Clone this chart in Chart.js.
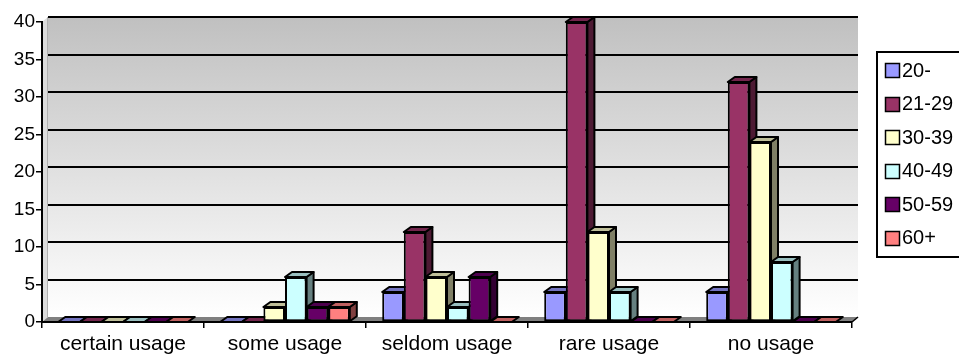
<!DOCTYPE html>
<html>
<head>
<meta charset="utf-8">
<script src="https://cdn.jsdelivr.net/npm/chart.js@4/dist/chart.umd.min.js"></script>
<style>
  html, body { margin: 0; padding: 0; background: #ffffff; overflow: hidden; }
  #wrap { position: relative; width: 959px; height: 358px; }
</style>
</head>
<body>
<div id="wrap"><canvas id="chart" width="959" height="358"></canvas></div>
<script>
// Usage frequency by age group
const categories = ['certain usage', 'some usage', 'seldom usage', 'rare usage', 'no usage'];
const ageGroups = ['20-', '21-29', '30-39', '40-49', '50-59', '60+'];

const age20     = [0, 0, 4, 4, 4];
const age21to29 = [0, 0, 12, 40, 32];
const age30to39 = [0, 2, 6, 12, 24];
const age40to49 = [0, 6, 2, 4, 8];
const age50to59 = [0, 2, 6, 0, 0];
const age60plus = [0, 2, 0, 0, 0];

const yTicks = [0, 5, 10, 15, 20, 25, 30, 35, 40];

const seriesValues = [age20, age21to29, age30to39, age40to49, age50to59, age60plus];
const seriesColors = ['#9999FF', '#993366', '#FFFFCC', '#CCFFFF', '#660066', '#FF8080'];

const FONT = '"Liberation Sans", Arial, sans-serif';
const DEPTH = { dx: 7, dy: -5 };   // bar depth offset
const WALL = { dx: 6, dy: -5 };    // back wall offset

function shade(hex, f) {
  const n = parseInt(hex.slice(1), 16);
  const r = Math.round(((n >> 16) & 255) * f);
  const g = Math.round(((n >> 8) & 255) * f);
  const b = Math.round((n & 255) * f);
  return `rgb(${r},${g},${b})`;
}

// Back wall, floor and wall gridlines
const wallPlugin = {
  id: 'wall',
  beforeDraw(chart) {
    const { ctx, chartArea: a, scales: { y } } = chart;
    const L = a.left + WALL.dx, R = a.right + WALL.dx;
    const T = y.getPixelForValue(40) + WALL.dy, B = y.getPixelForValue(0) + WALL.dy;
    ctx.save();
    const g = ctx.createLinearGradient(0, T, 0, B);
    g.addColorStop(0, '#c0c0c0');
    g.addColorStop(1, '#ffffff');
    ctx.fillStyle = g;
    ctx.fillRect(L, T, R - L, B - T);
    // left side wall
    ctx.fillStyle = '#dcdcdc';
    ctx.beginPath();
    ctx.moveTo(a.left, y.getPixelForValue(40));
    ctx.lineTo(L, T);
    ctx.lineTo(L, B);
    ctx.lineTo(a.left, y.getPixelForValue(0));
    ctx.closePath();
    ctx.fill();
    ctx.strokeStyle = '#b0b0b0';
    ctx.lineWidth = 1;
    ctx.beginPath();
    ctx.moveTo(L - 0.5, T);
    ctx.lineTo(L - 0.5, B);
    ctx.stroke();
    // floor
    const f0 = y.getPixelForValue(0);
    ctx.fillStyle = '#808080';
    ctx.beginPath();
    ctx.moveTo(a.left, f0);
    ctx.lineTo(L, B);
    ctx.lineTo(R, B);
    ctx.lineTo(a.right, f0);
    ctx.closePath();
    ctx.fill();
    // gridlines on the wall
    ctx.strokeStyle = '#000000';
    ctx.lineWidth = 2;
    yTicks.forEach(v => {
      if (v === 0) return;
      const py = Math.round(y.getPixelForValue(v) + WALL.dy);
      ctx.beginPath();
      ctx.moveTo(L, py);
      ctx.lineTo(R, py);
      ctx.stroke();
    });
    // floor edge on the right
    ctx.lineWidth = 1.5;
    ctx.beginPath();
    ctx.moveTo(a.right, f0);
    ctx.lineTo(R, B);
    ctx.stroke();
    ctx.restore();
  }
};

// Top and side faces of each column
const depthPlugin = {
  id: 'depth',
  beforeDatasetsDraw(chart) {
    const ctx = chart.ctx;
    ctx.save();
    ctx.lineWidth = 2;
    ctx.strokeStyle = '#000000';
    ctx.lineJoin = 'round';
    chart.data.datasets.forEach((ds, i) => {
      const meta = chart.getDatasetMeta(i);
      meta.data.forEach(bar => {
        const p = bar.getProps(['x', 'y', 'base', 'width'], true);
        const l = p.x - p.width / 2, r = p.x + p.width / 2;
        const t = Math.min(p.y, p.base), b = Math.max(p.y, p.base);
        const base = ds.backgroundColor;
        // side
        if (b - t > 0.5) {
          ctx.fillStyle = shade(base, 0.5);
          ctx.beginPath();
          ctx.moveTo(r, t);
          ctx.lineTo(r + DEPTH.dx, t + DEPTH.dy);
          ctx.lineTo(r + DEPTH.dx, b + DEPTH.dy);
          ctx.lineTo(r, b);
          ctx.closePath();
          ctx.fill();
          ctx.stroke();
        }
        // top
        ctx.fillStyle = shade(base, 0.75);
        ctx.beginPath();
        ctx.moveTo(l, t);
        ctx.lineTo(l + DEPTH.dx, t + DEPTH.dy);
        ctx.lineTo(r + DEPTH.dx, t + DEPTH.dy);
        ctx.lineTo(r, t);
        ctx.closePath();
        ctx.fill();
        ctx.stroke();
      });
    });
    ctx.restore();
  }
};

// Boxed legend on the right
const boxLegendPlugin = {
  id: 'boxLegend',
  afterDraw(chart) {
    const ctx = chart.ctx;
    ctx.save();
    ctx.strokeStyle = '#000000';
    ctx.lineWidth = 2;
    ctx.fillStyle = '#ffffff';
    ctx.fillRect(877, 52, 100, 205);
    ctx.strokeRect(877, 52, 100, 205);
    ctx.font = '20px ' + FONT;
    ctx.textBaseline = 'middle';
    ctx.textAlign = 'left';
    chart.data.datasets.forEach((ds, i) => {
      const cy = 70 + i * 33.5;
      ctx.fillStyle = ds.backgroundColor;
      ctx.fillRect(885.5, Math.round(cy - 7) + 0.5, 14, 14);
      ctx.lineWidth = 1.5;
      ctx.strokeRect(885.5, Math.round(cy - 7) + 0.5, 14, 14);
      ctx.fillStyle = '#000000';
      ctx.fillText(ds.label, 902, cy + 1);
    });
    ctx.restore();
  }
};

const datasets = ageGroups.map((label, i) => ({
  label,
  data: seriesValues[i],
  backgroundColor: seriesColors[i],
  borderColor: '#000000',
  borderWidth: 2,
  borderSkipped: false,
  categoryPercentage: 0.8,
  barPercentage: 1.0
}));

new Chart(document.getElementById('chart'), {
  type: 'bar',
  data: { labels: categories, datasets },
  options: {
    responsive: false,
    animation: false,
    devicePixelRatio: 1,
    layout: { padding: { top: 22, right: 107, left: 0, bottom: 0 } },
    plugins: { legend: { display: false }, tooltip: { enabled: false } },
    scales: {
      x: {
        grid: { display: true, offset: true, drawOnChartArea: false, drawTicks: true, tickLength: 6, color: '#000000', lineWidth: 1.5 },
        border: { display: true, color: '#000000', width: 2 },
        ticks: { color: '#000000', font: { family: FONT, size: 21 }, padding: 4, maxRotation: 0 },
        afterFit(s) { s.height = 36; }
      },
      y: {
        min: 0,
        max: 40,
        afterBuildTicks(s) { s.ticks = yTicks.map(v => ({ value: v })); },
        grid: { display: true, drawOnChartArea: false, drawTicks: true, tickLength: 6, color: '#000000', lineWidth: 1.5 },
        border: { display: true, color: '#000000', width: 2 },
        ticks: { color: '#000000', font: { family: FONT, size: 19 }, padding: 1 },
        afterFit(s) { s.width = 42; }
      }
    }
  },
  plugins: [wallPlugin, depthPlugin, boxLegendPlugin]
});
</script>
</body>
</html>
